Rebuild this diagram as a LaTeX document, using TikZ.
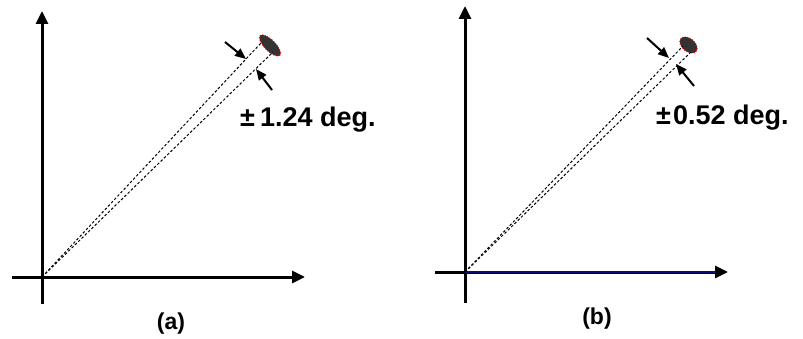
\documentclass[tikz,border=0pt]{standalone}
\usepackage{fontspec}
\setmainfont{Liberation Sans}
\usetikzlibrary{arrows.meta,shapes.geometric}
\definecolor{axisblue}{RGB}{10,10,120}
\tikzset{
  axis/.style={line width=3pt,-{Triangle[length=13pt,width=12pt]}},
  ray/.style={line width=1pt,dash pattern=on 2.6pt off 2pt},
  pointer/.style={line width=2pt,-{Triangle[length=11pt,width=9pt]}},
  blob/.style={ellipse,fill=black!80,draw=red,line width=0.9pt,dash pattern=on 1pt off 1.6pt,inner sep=0pt},
  bigtxt/.style={font=\fontsize{27}{32}\selectfont\bfseries,inner sep=0pt},
  captxt/.style={font=\fontsize{23}{28}\selectfont\bfseries,inner sep=0pt}
}
\begin{document}
\begin{tikzpicture}[x=1pt,y=-1pt]
\useasboundingbox (0,0) rectangle (803,339);
% ---------- panel (a) ----------
\coordinate (oa) at (42,277);
\coordinate (ya0) at (42,304);
\coordinate (ya1) at (42,11);
\coordinate (xa0) at (12,277);
\coordinate (xa1) at (305,277);
\draw[axis] (ya0) -- (ya1);
\draw[axis] (xa0) -- (xa1);
\node[blob,minimum width=28pt,minimum height=11pt,rotate=-45] (ba) at (270,45.5) {};
\coordinate (ua) at (261,43);
\coordinate (la) at (273,52);
\draw[ray] (oa) -- (ua);
\draw[ray] (oa) -- (la);
\coordinate (pa1s) at (225,42);
\coordinate (pa1e) at (246,59);
\coordinate (pa2s) at (272,90);
\coordinate (pa2e) at (256,69);
\draw[pointer] (pa1s) -- (pa1e);
\draw[pointer] (pa2s) -- (pa2e);
\node[bigtxt,anchor=base west] (ta) at (240,126.5) {±\kern5pt1.24 deg.};
\node[captxt] (ca) at (171,324) {(a)};
% ---------- panel (b) ----------
\coordinate (ob) at (465,272);
\coordinate (yb0) at (465,303);
\coordinate (yb1) at (465,6);
\coordinate (xb0) at (435,272);
\coordinate (xb1) at (728,272);
\draw[axis] (yb0) -- (yb1);
\draw[axis] (xb0) -- (xb1);
\coordinate (xbm) at (716,272);
\draw[axisblue,line width=1.4pt] (ob) -- (xbm);
\node[blob,minimum width=20pt,minimum height=13pt,rotate=-40] (bb) at (688.5,45) {};
\coordinate (ub) at (683,46);
\coordinate (lb) at (691,52);
\draw[ray] (ob) -- (ub);
\draw[ray] (ob) -- (lb);
\coordinate (pb1s) at (647,38);
\coordinate (pb1e) at (669,58);
\coordinate (pb2s) at (694,86);
\coordinate (pb2e) at (676,64);
\draw[pointer] (pb1s) -- (pb1e);
\draw[pointer] (pb2s) -- (pb2e);
\node[bigtxt,anchor=base west] (tb) at (656,125) {±\kern2pt0.52 deg.};
\node[captxt] (cb) at (597,319) {(b)};
\end{tikzpicture}
\end{document}
